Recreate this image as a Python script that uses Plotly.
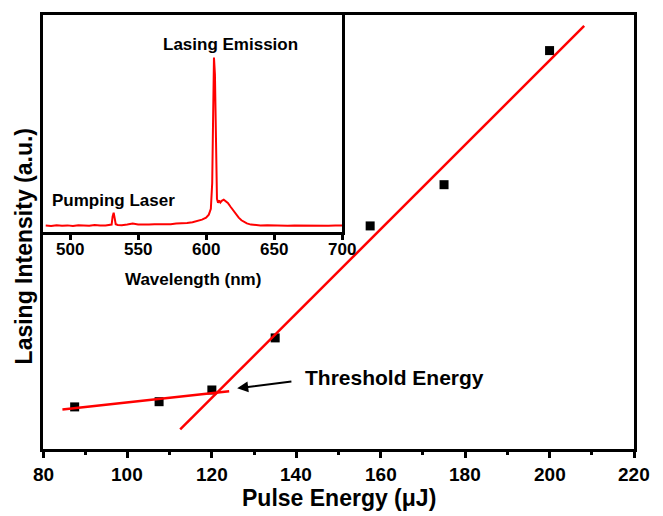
import plotly.graph_objects as go

# ---- main data ----
pulse_energy = [87.5, 107.5, 120, 135, 157.5, 175, 200]
lasing_intensity = [9.7, 10.9, 13.6, 25.6, 51.4, 60.9, 91.8]

fit_low_x = [84.6, 124.1]
fit_low_y = [9.1, 13.3]
fit_high_x = [112.5, 208.2]
fit_high_y = [4.5, 97.5]

# ---- inset spectrum ----
wavelength = [482, 486, 490, 494, 498, 502, 506, 510, 514, 518, 522, 526, 529, 530.5,
              531.2, 532, 532.8, 533.5, 535, 538, 542, 546, 550, 554, 558, 562, 566, 570,
              574, 578, 582, 586, 590, 594, 597, 600, 602, 603.5, 604.5, 605.2, 605.8,
              606.5, 607.2, 608, 608.8, 609.6, 610.5, 611.5, 613, 614.5, 616, 618, 620,
              622, 624, 626, 628, 630, 633, 636, 640, 645, 650, 655, 660, 665, 670, 675,
              680, 685, 690, 695, 700]
intensity = [35, 33, 37, 34, 36, 33, 37, 35, 34, 38, 35, 36, 37, 40,
             80, 100, 70, 42, 38, 37, 40, 45, 41, 39, 40, 42, 41, 43,
             42, 45, 46, 48, 52, 58, 65, 75, 90, 120, 250, 600, 885,
             800, 400, 170, 150, 162, 152, 160, 166, 160, 150, 130, 110,
             90, 75, 62, 52, 46, 40, 38, 36, 37, 35, 36, 34, 36, 35, 34,
             36, 35, 34, 36, 35]

main_ticks = [80, 100, 120, 140, 160, 180, 200, 220]
main_tick_labels = ["80", "100", "120", "140", "160", "180", "200", "220"]
inset_ticks = [500, 550, 600, 650, 700]
inset_tick_labels = ["500", "550", "600", "650", "700"]

FONT = "Liberation Sans, Arial, sans-serif"
W, H = 663, 516
L, R, T, B = 43, 634, 12, 449


def px_x(px):
    return (px - L) / (R - L)


def px_y(py):
    return (B - py) / (B - T)


def label(text, cx, cy, size, angle=0):
    return dict(text=text, x=px_x(cx), y=px_y(cy), xref="paper", yref="paper",
                xanchor="center", yanchor="middle", showarrow=False, textangle=angle,
                font=dict(family=FONT, size=size, color="black", weight="bold"))


fig = go.Figure()

fig.add_trace(go.Scatter(x=pulse_energy, y=lasing_intensity, mode="markers",
                         marker=dict(symbol="square", size=9, color="black"),
                         xaxis="x", yaxis="y", showlegend=False))
fig.add_trace(go.Scatter(x=fit_low_x, y=fit_low_y, mode="lines",
                         line=dict(color="#ff0000", width=2.5),
                         xaxis="x", yaxis="y", showlegend=False))
fig.add_trace(go.Scatter(x=fit_high_x, y=fit_high_y, mode="lines",
                         line=dict(color="#ff0000", width=2.5),
                         xaxis="x", yaxis="y", showlegend=False))
fig.add_trace(go.Scatter(x=wavelength, y=intensity, mode="lines",
                         line=dict(color="#ff0000", width=2),
                         xaxis="x2", yaxis="y2", showlegend=False))

annotations = [
    label("Threshold Energy", 394, 377, 21),
    dict(text="", x=126.0, y=14.0, ax=139.2, ay=15.6, xref="x", yref="y",
         axref="x", ayref="y", showarrow=True, arrowhead=2, arrowsize=1.1,
         arrowwidth=2, arrowcolor="black"),
    label("Lasing Emission", 230, 42, 17),
    label("Pumping Laser", 113.5, 199, 17),
    label("Wavelength (nm)", 192.5, 278, 17),
    label("Pulse Energy (μJ)", 338.5, 498, 23),
    label("Lasing Intensity (a.u.)", 24, 245, 23, angle=-90),
]

# bold tick labels placed through the axes' own scales
for v, t in zip(main_ticks, main_tick_labels):
    annotations.append(dict(text=t, x=v, xref="x", y=px_y(475), yref="paper",
                            xanchor="center", yanchor="middle", showarrow=False,
                            font=dict(family=FONT, size=19, color="black", weight="bold")))
for v, t in zip(inset_ticks, inset_tick_labels):
    annotations.append(dict(text=t, x=v, xref="x2", y=px_y(248.5), yref="paper",
                            xanchor="center", yanchor="middle", showarrow=False,
                            font=dict(family=FONT, size=17, color="black", weight="bold")))

fig.update_layout(
    width=W, height=H,
    margin=dict(l=L, r=W - R, t=T, b=H - B),
    paper_bgcolor="white", plot_bgcolor="white",
    font=dict(family=FONT, color="black"),
    showlegend=False,
    xaxis=dict(range=[80, 220], tickvals=main_ticks, showticklabels=False,
               ticks="outside", ticklen=6,
               tickwidth=2.5, tickcolor="black", showline=True, linewidth=2.5,
               linecolor="black", mirror=True, showgrid=False, zeroline=False,
               minor=dict(dtick=10, ticks="outside", ticklen=3, tickwidth=2.5,
                          tickcolor="black", showgrid=False),
               domain=[0, 1], anchor="y"),
    yaxis=dict(range=[0, 100], showticklabels=False, ticks="", showline=True,
               linewidth=2.5, linecolor="black", mirror=True, showgrid=False,
               zeroline=False, domain=[0, 1], anchor="x"),
    xaxis2=dict(range=[480, 700], tickvals=inset_ticks, showticklabels=False,
                ticks="outside", ticklen=5, tickwidth=2.5, tickcolor="black",
                showline=True,
                linewidth=3, linecolor="black", mirror=True, showgrid=False,
                zeroline=False, domain=[0, px_x(342)], anchor="y2"),
    yaxis2=dict(range=[0, 1100], showticklabels=False, ticks="", showline=True,
                linewidth=3, linecolor="black", mirror=True, showgrid=False,
                zeroline=False, domain=[px_y(231), 1], anchor="x2"),
    annotations=annotations,
)

fig.write_html("out.html")
